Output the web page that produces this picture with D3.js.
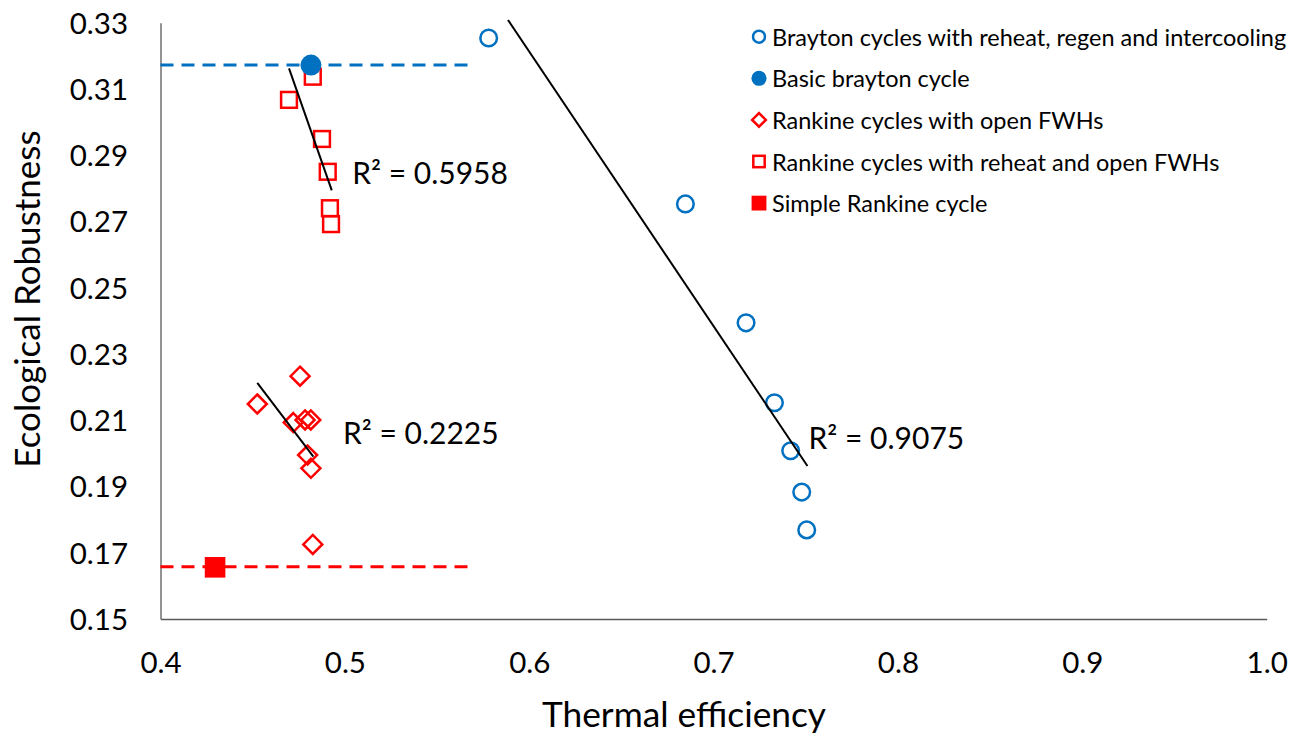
<!DOCTYPE html>
<html>
<head>
<meta charset="utf-8">
<script src="https://cdn.jsdelivr.net/npm/d3@7"></script>
<style>
  html, body { margin: 0; padding: 0; background: #fff; }
  svg { display: block; }
  text { font-family: Lato, "Open Sans", sans-serif; fill: #000; }
</style>
</head>
<body>
<div id="chart"></div>
<script>
// ---- Data -----------------------------------------------------------------
const braytonX = [0.578, 0.6847, 0.7176, 0.7330, 0.7418, 0.7478, 0.7505];
const braytonY = [0.3254, 0.2753, 0.2394, 0.2153, 0.2008, 0.1883, 0.1769];

const basicBrayton = [[0.4816, 0.3172]];
const simpleRankine = [[0.4296, 0.1656]];

const openFwhX = [0.4757, 0.4525, 0.4720, 0.4784, 0.4815, 0.4798, 0.4816, 0.4826];
const openFwhY = [0.2233, 0.2149, 0.2093, 0.2101, 0.2101, 0.1995, 0.1955, 0.1725];

const reheatX = [0.4826, 0.4697, 0.4876, 0.4907, 0.4919, 0.4925];
const reheatY = [0.3137, 0.3067, 0.2949, 0.2850, 0.2740, 0.2692];

// trendline endpoints [x, y] and R² labels
const trendBrayton = [[0.5885, 0.3308], [0.7509, 0.1962]];
const trendReheat = [[0.4697, 0.3162], [0.4929, 0.2794]];
const trendOpenFwh = [[0.4525, 0.2213], [0.4829, 0.1990]];
const r2Labels = [
  { text: "R² = 0.9075", x: 0.7515, y: 0.2048 },
  { text: "R² = 0.5958", x: 0.5040, y: 0.2848 },
  { text: "R² = 0.2225", x: 0.4990, y: 0.2063 }
];

// dashed reference levels
const refLines = [
  { y: 0.3172, x0: 0.4, x1: 0.568, color: "#0070C0" },
  { y: 0.1658, x0: 0.4, x1: 0.567, color: "#FF0000" }
];

const xTicks = [0.4, 0.5, 0.6, 0.7, 0.8, 0.9, 1.0];
const yTicks = [0.15, 0.17, 0.19, 0.21, 0.23, 0.25, 0.27, 0.29, 0.31, 0.33];

const legendItems = [
  { label: "Brayton cycles with reheat, regen and intercooling", kind: "openCircle" },
  { label: "Basic brayton cycle", kind: "filledCircle" },
  { label: "Rankine cycles with open FWHs", kind: "diamond" },
  { label: "Rankine cycles with reheat and open FWHs", kind: "openSquare" },
  { label: "Simple Rankine cycle", kind: "filledSquare" }
];

// ---- Layout -----------------------------------------------------------------
const W = 1309, H = 736;
const M = { top: 22.7, right: 42.3, bottom: 117, left: 160.5 };
const BLUE = "#0070C0", RED = "#FF0000", AXIS = "#595959";
const TICKFONT = "29.5px";

const svg = d3.select("#chart").append("svg").attr("width", W).attr("height", H);

const x = d3.scaleLinear().domain([0.4, 1.0]).range([M.left, W - M.right]);
const y = d3.scaleLinear().domain([0.15, 0.33]).range([H - M.bottom, M.top]);

// ---- Axes (no tick marks, just line + labels) -------------------------------
const xAxis = svg.append("g")
  .attr("transform", `translate(0,${H - M.bottom})`)
  .call(d3.axisBottom(x).tickValues(xTicks).tickFormat(d3.format(".1f")).tickSize(0));
const yAxis = svg.append("g")
  .attr("transform", `translate(${M.left},0)`)
  .call(d3.axisLeft(y).tickValues(yTicks).tickFormat(d3.format(".2f")).tickSize(0));
[xAxis, yAxis].forEach((a) => {
  a.select(".domain").attr("stroke", AXIS).attr("stroke-width", 1.3);
  a.selectAll("text").style("font-size", TICKFONT).style("font-family", "Lato, sans-serif").attr("fill", "#000");
});
xAxis.selectAll("text").attr("y", 53.7).attr("dy", null);
yAxis.selectAll("text").attr("x", -32.5).attr("dy", "0.35em");

svg.append("text")
  .attr("x", 684).attr("y", 727)
  .attr("text-anchor", "middle")
  .style("font-size", "35.3px")
  .text("Thermal efficiency");
svg.append("text")
  .attr("transform", `translate(26,299) rotate(-90)`)
  .attr("text-anchor", "middle").attr("dominant-baseline", "central")
  .style("font-size", "35px")
  .text("Ecological Robustness");

// ---- Dashed reference lines ------------------------------------------------
svg.append("g").selectAll("line").data(refLines).join("line")
  .attr("x1", (d) => x(d.x0)).attr("x2", (d) => x(d.x1))
  .attr("y1", (d) => y(d.y)).attr("y2", (d) => y(d.y))
  .attr("stroke", (d) => d.color).attr("stroke-width", 3)
  .attr("stroke-dasharray", "13,8");

// ---- Markers -----------------------------------------------------------------
function drawMarker(g, kind, s) {
  // s = scale factor (1 = plot size)
  if (kind === "openCircle") {
    g.append("circle").attr("r", 8.3 * s).attr("fill", "#fff").attr("stroke", BLUE).attr("stroke-width", 2.5);
  } else if (kind === "filledCircle") {
    g.append("circle").attr("r", 10.5 * s).attr("fill", BLUE);
  } else if (kind === "diamond") {
    const r = 9.5 * s;
    g.append("path").attr("d", `M0,${-r}L${r},0L0,${r}L${-r},0Z`)
      .attr("fill", "none").attr("stroke", RED).attr("stroke-width", 2.5);
  } else if (kind === "openSquare") {
    const h = 7.9 * s;
    g.append("rect").attr("x", -h).attr("y", -h).attr("width", 2 * h).attr("height", 2 * h)
      .attr("fill", "none").attr("stroke", RED).attr("stroke-width", 2.5);
  } else if (kind === "filledSquare") {
    const h = 10.3 * s;
    g.append("rect").attr("x", -h).attr("y", -h).attr("width", 2 * h).attr("height", 2 * h).attr("fill", RED);
  }
}

const series = [
  { kind: "openCircle", pts: braytonX.map((v, i) => [v, braytonY[i]]) },
  { kind: "openSquare", pts: reheatX.map((v, i) => [v, reheatY[i]]) },
  { kind: "diamond", pts: openFwhX.map((v, i) => [v, openFwhY[i]]) },
  { kind: "filledSquare", pts: simpleRankine },
  { kind: "filledCircle", pts: basicBrayton }
];
series.forEach((s) => {
  svg.append("g").selectAll("g").data(s.pts).join("g")
    .attr("transform", (d) => `translate(${x(d[0])},${y(d[1])})`)
    .each(function () { drawMarker(d3.select(this), s.kind, 1); });
});

// ---- Trendlines ----------------------------------------------------------------
const line = d3.line().x((d) => x(d[0])).y((d) => y(d[1]));
svg.append("g").selectAll("path").data([trendBrayton, trendReheat, trendOpenFwh]).join("path")
  .attr("d", line).attr("fill", "none").attr("stroke", "#000").attr("stroke-width", 2);

svg.append("g").selectAll("text").data(r2Labels).join("text")
  .attr("x", (d) => x(d.x)).attr("y", (d) => y(d.y))
  .attr("dominant-baseline", "central")
  .style("font-size", "30px")
  .text((d) => d.text);

// ---- Legend ----------------------------------------------------------------------
const legend = svg.append("g").attr("transform", "translate(759,36.7)");
const row = legend.selectAll("g").data(legendItems).join("g")
  .attr("transform", (d, i) => `translate(0,${i * 41.6})`);
row.each(function (d) { drawMarker(d3.select(this), d.kind, 0.72); });
row.append("text").attr("x", 13).attr("dominant-baseline", "central")
  .style("font-size", "23.5px").text((d) => d.label);
</script>
</body>
</html>
